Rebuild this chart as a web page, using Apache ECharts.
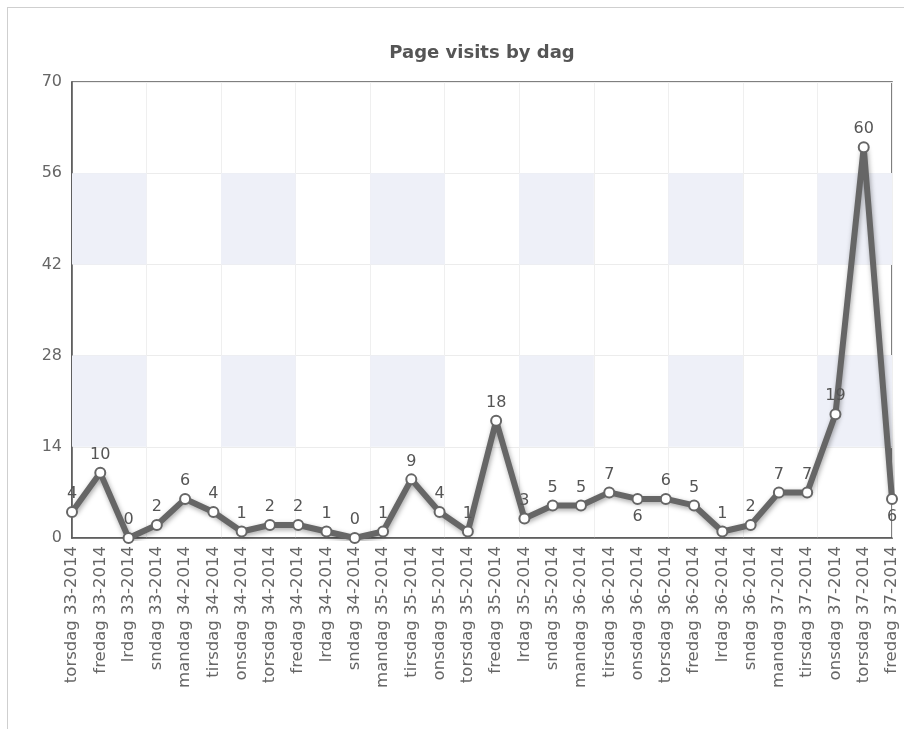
<!DOCTYPE html>
<html>
<head>
<meta charset="utf-8">
<script src="https://cdn.jsdelivr.net/npm/echarts@6/dist/echarts.min.js"></script>
<style>
  html, body { margin: 0; padding: 0; background: #fff; }
  #frame { position: absolute; left: 7px; top: 7px; right: 0; bottom: 0; border-left: 1px solid #cfcfcf; border-top: 1px solid #cfcfcf; }
  #chart { position: absolute; left: 0; top: 0; width: 904px; height: 729px; }
</style>
</head>
<body>
<div id="frame"></div>
<div id="chart"></div>
<script>
const categories = [
  "torsdag 33-2014", "fredag 33-2014", "lrdag 33-2014", "sndag 33-2014",
  "mandag 34-2014", "tirsdag 34-2014", "onsdag 34-2014", "torsdag 34-2014",
  "fredag 34-2014", "lrdag 34-2014", "sndag 34-2014", "mandag 35-2014",
  "tirsdag 35-2014", "onsdag 35-2014", "torsdag 35-2014", "fredag 35-2014",
  "lrdag 35-2014", "sndag 35-2014", "mandag 36-2014", "tirsdag 36-2014",
  "onsdag 36-2014", "torsdag 36-2014", "fredag 36-2014", "lrdag 36-2014",
  "sndag 36-2014", "mandag 37-2014", "tirsdag 37-2014", "onsdag 37-2014",
  "torsdag 37-2014", "fredag 37-2014"
];
const visits = [4, 10, 0, 2, 6, 4, 1, 2, 2, 1, 0, 1, 9, 4, 1, 18, 3, 5, 5, 7, 6, 6, 5, 1, 2, 7, 7, 19, 60, 6];
const yTicks = [0, 14, 28, 42, 56, 70];
const title = "Page visits by dag";

// background decoration: shaded columns (of 11) intersected with shaded rows
const shadedCols = [0, 2, 4, 6, 8, 10];
const shadedRows = [[14, 28], [42, 56]];
const labelBelow = [20, 29];

const FONT = "DejaVu Sans";
const areas = [];
shadedRows.forEach(r => shadedCols.forEach(c => {
  areas.push([{ xAxis: c, yAxis: r[0] }, { xAxis: c + 1, yAxis: r[1] }]);
}));

const seriesData = visits.map((v, i) =>
  labelBelow.includes(i) ? { value: v, label: { position: 'bottom' } } : v);

const chart = echarts.init(document.getElementById('chart'));
chart.setOption({
  backgroundColor: 'transparent',
  animation: false,
  title: {
    text: title,
    left: 477,
    top: 39,
    textAlign: 'center',
    textStyle: { fontFamily: FONT, fontSize: 18, fontWeight: 'bold', color: '#555' }
  },
  grid: {
    left: 72, top: 82, right: 12, bottom: 191,
    show: true, borderColor: '#555', borderWidth: 1.5, backgroundColor: 'transparent'
  },
  xAxis: [
    {
      type: 'category',
      data: categories,
      boundaryGap: false,
      axisLine: { show: true, lineStyle: { color: '#555', width: 1.5 } },
      axisTick: { show: false },
      splitLine: { show: false },
      axisLabel: {
        interval: 0, rotate: 90, margin: 8,
        fontFamily: FONT, fontSize: 16.5, color: '#666'
      }
    },
    {
      type: 'value',
      min: 0, max: 11, interval: 1,
      position: 'top',
      axisLine: { show: false },
      axisTick: { show: false },
      axisLabel: { show: false },
      splitLine: { show: true, lineStyle: { color: '#efefef', width: 1 } }
    }
  ],
  yAxis: {
    type: 'value',
    min: yTicks[0], max: yTicks[yTicks.length - 1], interval: yTicks[1] - yTicks[0],
    axisLine: { show: true, lineStyle: { color: '#555', width: 1.5 } },
    axisTick: { show: false },
    axisLabel: { margin: 10, fontFamily: FONT, fontSize: 16, color: '#666' },
    splitLine: { show: true, lineStyle: { color: '#ececec', width: 1 } }
  },
  series: [
    {
      type: 'line',
      xAxisIndex: 1,
      data: [],
      silent: true,
      z: 0,
      markArea: {
        silent: true,
        itemStyle: { color: '#eef0f8' },
        data: areas
      }
    },
    {
      type: 'line',
      xAxisIndex: 0,
      data: seriesData,
      z: 5,
      symbol: 'circle',
      symbolSize: 10,
      lineStyle: {
        color: '#666', width: 6,
        shadowColor: 'rgba(0,0,0,0.35)', shadowBlur: 5, shadowOffsetX: 1, shadowOffsetY: 2
      },
      itemStyle: { color: '#fff', borderColor: '#666', borderWidth: 2 },
      label: {
        show: true, position: 'top', distance: 4,
        fontFamily: FONT, fontSize: 16, color: '#555'
      }
    }
  ]
});
</script>
</body>
</html>
